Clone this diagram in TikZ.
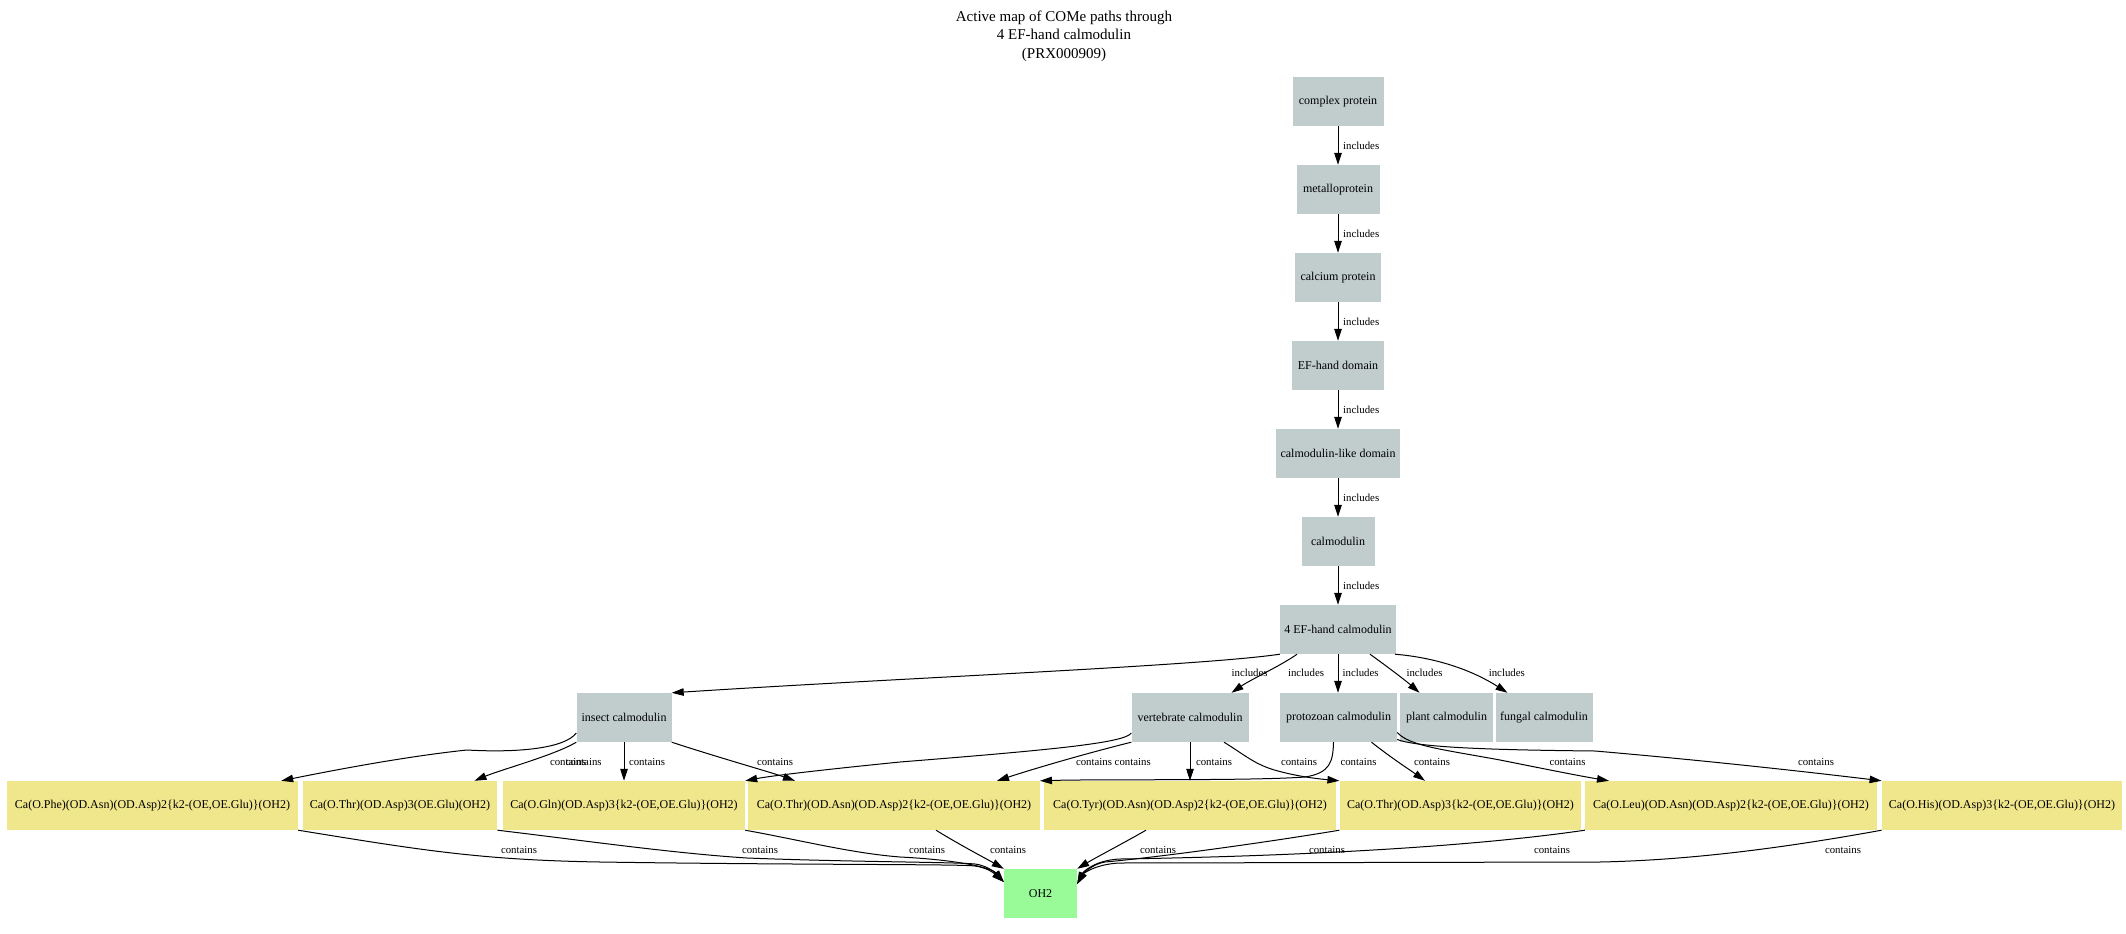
\documentclass[tikz,border=0pt]{standalone}
\usepackage{fontspec}
\setmainfont{Liberation Serif}
\usetikzlibrary{arrows.meta}
\definecolor{nodegray}{HTML}{C1CDCD}
\definecolor{nodekhaki}{HTML}{F0E68C}
\definecolor{nodegreen}{HTML}{98FB98}
\begin{document}
\begin{tikzpicture}[x=1pt,y=-1pt,
  box/.style={inner sep=0pt, minimum height=49pt, font=\fontsize{12}{14}\selectfont, text=black},
  concept/.style={box, fill=nodegray},
  site/.style={box, fill=nodekhaki},
  ligand/.style={box, fill=nodegreen},
  edge/.style={draw=black, line width=1pt, -{Triangle[length=12pt,width=7.5pt]}},
  elabel/.style={font=\fontsize{10.8}{12}\selectfont, inner sep=0pt},
  ]
\path[fill=white, use as bounding box] (0,0) rectangle (2126,934);

% title
\node[font=\fontsize{15}{18.5}\selectfont, align=center] (title) at (1064,36)
  {Active map of COMe paths through\\4 EF-hand calmodulin\\(PRX000909)};

% chain
\node[concept, minimum width=91pt] (cp) at (1338,101.5) {complex protein};
\node[concept, minimum width=83pt] (mp) at (1338,189.5) {metalloprotein};
\node[concept, minimum width=86pt] (cap) at (1338,277.5) {calcium protein};
\node[concept, minimum width=92pt] (efd) at (1338,365.5) {EF-hand domain};
\node[concept, minimum width=124pt] (cld) at (1338,453.5) {calmodulin-like domain};
\node[concept, minimum width=73pt] (cal) at (1338,541.5) {calmodulin};
\node[concept, minimum width=116pt] (ef4) at (1338,629.5) {4 EF-hand calmodulin};

% row 2
\node[concept, minimum width=95pt] (insect) at (624,717.5) {insect calmodulin};
\node[concept, minimum width=117pt] (vert) at (1190,717.5) {vertebrate calmodulin};
\node[concept, minimum width=117pt] (proto) at (1338.5,717.5) {protozoan calmodulin};
\node[concept, minimum width=93pt] (plant) at (1446.5,717.5) {plant calmodulin};
\node[concept, minimum width=97pt] (fungal) at (1544,717.5) {fungal calmodulin};

% row 3
\node[site, minimum width=291pt] (phe) at (152.5,805.5) {Ca(O.Phe)(OD.Asn)(OD.Asp)2\{k2-(OE,OE.Glu)\}(OH2)};
\node[site, minimum width=194.5pt] (thr3oe) at (400,805.5) {Ca(O.Thr)(OD.Asp)3(OE.Glu)(OH2)};
\node[site, minimum width=242pt] (gln) at (624,805.5) {Ca(O.Gln)(OD.Asp)3\{k2-(OE,OE.Glu)\}(OH2)};
\node[site, minimum width=291.6pt] (thrasn) at (894,805.5) {Ca(O.Thr)(OD.Asn)(OD.Asp)2\{k2-(OE,OE.Glu)\}(OH2)};
\node[site, minimum width=291.7pt] (tyr) at (1190,805.5) {Ca(O.Tyr)(OD.Asn)(OD.Asp)2\{k2-(OE,OE.Glu)\}(OH2)};
\node[site, minimum width=241.8pt] (thrasp3) at (1460.5,805.5) {Ca(O.Thr)(OD.Asp)3\{k2-(OE,OE.Glu)\}(OH2)};
\node[site, minimum width=292pt] (leu) at (1731,805.5) {Ca(O.Leu)(OD.Asn)(OD.Asp)2\{k2-(OE,OE.Glu)\}(OH2)};
\node[site, minimum width=240.5pt] (his) at (2002,805.5) {Ca(O.His)(OD.Asp)3\{k2-(OE,OE.Glu)\}(OH2)};

% ligand
\node[ligand, minimum width=73pt] (oh2) at (1040.5,893.5) {OH2};

% chain edges
\draw[edge] (cp) -- (mp);
\draw[edge] (mp) -- (cap);
\draw[edge] (cap) -- (efd);
\draw[edge] (efd) -- (cld);
\draw[edge] (cld) -- (cal);
\draw[edge] (cal) -- (ef4);
\foreach \yy/\nm in {146/i1,234/i2,322/i3,410/i4,498/i5,586/i6}
  \node[elabel, anchor=west] (\nm) at (1343,\yy) {includes};

% 4 EF-hand edges
\draw[edge] (ef4.south west) .. controls (1200,666) and (900,678) .. (insect.north east);
\draw[edge] ([xshift=-41pt]ef4.south) .. controls (1282,665) and (1250,680) .. ([xshift=41.5pt]vert.north);
\draw[edge] (ef4.south) -- (ef4.south |- proto.north);
\draw[edge] ([xshift=32pt]ef4.south) .. controls (1385,665) and (1405,680) .. ([xshift=-27pt]plant.north);
\draw[edge] ([xshift=57pt]ef4.south) .. controls (1440,658) and (1475,672) .. ([xshift=-36.5pt]fungal.north);
\node[elabel] (j1) at (1249.6,673) {includes};
\node[elabel] (j2) at (1306,673) {includes};
\node[elabel] (j3) at (1360.6,673) {includes};
\node[elabel] (j4) at (1424.5,673) {includes};
\node[elabel] (j5) at (1506.8,673) {includes};

% insect edges
\draw[edge] ([yshift=-15.5pt]insect.west) .. controls (565,748) and (520,753) .. (467,750)
   .. controls (400,757) and (320,773) .. ([xshift=-17pt]phe.north east);
\draw[edge] (insect.south west) .. controls (555,755) and (500,770) .. ([xshift=74.5pt]thr3oe.north);
\draw[edge] (insect.south) -- (gln.north);
\draw[edge] (insect.south east) .. controls (720,758) and (770,772) .. ([xshift=-99pt]thrasn.north);

% vertebrate edges
\draw[edge] ([yshift=-15.5pt]vert.west) .. controls (1125,743) and (1050,750) .. (900,762)
   .. controls (820,770) and (770,776) .. (gln.north east);
\draw[edge] (vert.south west) .. controls (1080,755) and (1030,770) .. ([xshift=103pt]thrasn.north);
\draw[edge] (vert.south) -- (tyr.north);
\draw[edge] ([xshift=34pt]vert.south) .. controls (1245,755) and (1255,765) .. (1278,771)
   .. controls (1300,777) and (1320,779) .. (thrasp3.north west);

% protozoan edges
\draw[edge] ([xshift=-5pt]proto.south) .. controls (1333,762) and (1330,773) .. (1305,777)
   .. controls (1250,781) and (1100,779) .. (thrasn.north east);
\draw[edge] ([xshift=33pt]proto.south) .. controls (1390,757) and (1410,770) .. ([xshift=-35.5pt]thrasp3.north);
\draw[edge] ([yshift=-15pt]proto.east) .. controls (1410,746) and (1440,749) .. (1500,760)
   .. controls (1550,770) and (1580,776) .. ([xshift=-122pt]leu.north);
\draw[edge] ([yshift=-22pt]proto.east) .. controls (1420,748) and (1500,750) .. (1595,751)
   .. controls (1700,760) and (1800,771) .. (his.north west);

\node[elabel] (c1) at (568,762) {contains};
\node[elabel] (c2) at (583.6,762) {contains};
\node[elabel] (c3) at (647,762) {contains};
\node[elabel] (c4) at (775,762) {contains};
\node[elabel] (c5) at (1094,762) {contains};
\node[elabel] (c6) at (1132.7,762) {contains};
\node[elabel] (c7) at (1214,762) {contains};
\node[elabel] (c8) at (1299,762) {contains};
\node[elabel] (c9) at (1358.5,762) {contains};
\node[elabel] (c10) at (1432,762) {contains};
\node[elabel] (c11) at (1567.5,762) {contains};
\node[elabel] (c12) at (1816,762) {contains};

% edges to OH2
\draw[edge] (phe.south east) .. controls (420,850) and (480,860) .. (600,862)
   .. controls (800,865) and (960,864) .. (975,866)
   .. controls (990,868) and (997,876) .. ([yshift=11.5pt]oh2.west);
\draw[edge] (thr3oe.south east) .. controls (580,840) and (670,853) .. (747,858)
   .. controls (850,862) and (955,862) .. (975,864)
   .. controls (990,866) and (997,875) .. ([yshift=11.5pt]oh2.west);
\draw[edge] (gln.south east) .. controls (800,840) and (850,853) .. (900,857)
   .. controls (960,860) and (992,868) .. ([yshift=11.5pt]oh2.west);
\draw[edge] ([xshift=42pt]thrasn.south) .. controls (960,845) and (985,858) .. (oh2.north west);
\draw[edge] ([xshift=-44pt]tyr.south) .. controls (1120,845) and (1095,858) .. (oh2.north east);
\draw[edge] (thrasp3.south west) .. controls (1250,845) and (1150,858) .. (1105,862)
   .. controls (1092,864) and (1083,874) .. ([yshift=9.5pt]oh2.east);
\draw[edge] (leu.south west) .. controls (1450,850) and (1250,857) .. (1120,859)
   .. controls (1095,860) and (1083,872) .. ([yshift=9.5pt]oh2.east);
\draw[edge] (his.south west) .. controls (1800,845) and (1700,860) .. (1600,862)
   -- (1120,863) .. controls (1095,864) and (1083,874) .. ([yshift=9.5pt]oh2.east);

\node[elabel] (d1) at (519,850) {contains};
\node[elabel] (d2) at (760,850) {contains};
\node[elabel] (d3) at (927,850) {contains};
\node[elabel] (d4) at (1008,850) {contains};
\node[elabel] (d5) at (1158,850) {contains};
\node[elabel] (d6) at (1327,850) {contains};
\node[elabel] (d7) at (1552,850) {contains};
\node[elabel] (d8) at (1843,850) {contains};
\end{tikzpicture}
\end{document}
